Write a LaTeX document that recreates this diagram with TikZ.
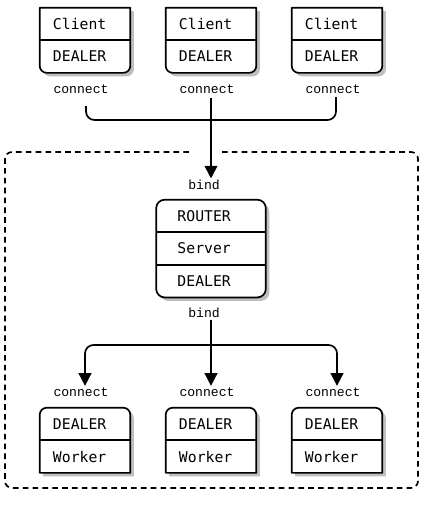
\documentclass[tikz,border=0pt]{standalone}
\usepackage{fontspec}
\usetikzlibrary{positioning, arrows.meta, shadows, backgrounds}
\newfontfamily\boxfont{DejaVu Sans Mono}
\newfontfamily\lblfont{Liberation Mono}

\begin{document}
\begin{tikzpicture}[x=0.025cm, y=-0.025cm,
    cell/.style={text width=1.6cm, inner xsep=0.325cm, inner ysep=0pt,
                 minimum height=0.8cm, align=left,
                 font=\boxfont\fontsize{10.5}{12}\selectfont},
    widecell/.style={cell, text width=1.675cm, inner xsep=0.525cm},
    lbl/.style={font=\lblfont\fontsize{9.3}{11}\selectfont, inner sep=1pt},
    boxline/.style={line width=1.2pt, line join=round},
    boxbody/.style={boxline, fill=white,
                    drop shadow={shadow xshift=2.5pt, shadow yshift=-2.5pt,
                                 fill=black, opacity=0.25}},
    wire/.style={line width=1.2pt, rounded corners=6pt},
    arr/.style={wire, -{Triangle[length=9pt, width=9pt]}},
    frame/.style={line width=1.2pt, dash pattern=on 4pt off 3pt,
                  rounded corners=5pt}
  ]
  \useasboundingbox (0,0) rectangle (423,512);

  % Clients
  \node[cell] (cltop1) at (85,24) {Client};
  \node[cell, below=0pt of cltop1] (cldeal1) {DEALER};
  \node[cell] (cltop2) at (211,24) {Client};
  \node[cell, below=0pt of cltop2] (cldeal2) {DEALER};
  \node[cell] (cltop3) at (337,24) {Client};
  \node[cell, below=0pt of cltop3] (cldeal3) {DEALER};

  % Server
  \node[widecell] (srvrouter) at (211,216) {ROUTER};
  \node[widecell, below=0pt of srvrouter] (srvname) {Server};
  \node[widecell, below=0pt of srvname] (srvdeal) {DEALER};

  % Workers
  \node[cell] (wkdeal1) at (85,424) {DEALER};
  \node[cell, below=0pt of wkdeal1] (wkname1) {Worker};
  \node[cell] (wkdeal2) at (211,424) {DEALER};
  \node[cell, below=0pt of wkdeal2] (wkname2) {Worker};
  \node[cell] (wkdeal3) at (337,424) {DEALER};
  \node[cell, below=0pt of wkdeal3] (wkname3) {Worker};

  % Labels
  \node[lbl] (cn1) at (81,89) {connect};
  \node[lbl] (cn2) at (207,89) {connect};
  \node[lbl] (cn3) at (333,89) {connect};
  \node[lbl] (bindin) at (204,185) {bind};
  \node[lbl] (bindout) at (204,313) {bind};
  \node[lbl] (wl1) at (81,392) {connect};
  \node[lbl] (wl2) at (207,392) {connect};
  \node[lbl] (wl3) at (333,392) {connect};

  % Box outlines
  \begin{scope}[on background layer]
    \foreach \i in {1,2,3} {
      \draw[boxbody] (cltop\i.north west) -- (cltop\i.north east)
        -- ([yshift=5pt]cldeal\i.south east) arc[start angle=0, end angle=-90, radius=5pt]
        -- ([xshift=5pt]cldeal\i.south west) arc[start angle=-90, end angle=-180, radius=5pt]
        -- cycle;
      \draw[boxbody] (wkname\i.south west)
        -- ([yshift=-5pt]wkdeal\i.north west) arc[start angle=180, end angle=90, radius=5pt]
        -- ([xshift=-5pt]wkdeal\i.north east) arc[start angle=90, end angle=0, radius=5pt]
        -- (wkname\i.south east) -- cycle;
    }
    \draw[boxbody, rounded corners=6pt] (srvrouter.north west) rectangle (srvdeal.south east);
  \end{scope}

  % Dividers
  \foreach \i in {1,2,3} {
    \draw[boxline] (cltop\i.south west) -- (cltop\i.south east);
    \draw[boxline] (wkdeal\i.south west) -- (wkdeal\i.south east);
  }
  \draw[boxline] (srvrouter.south west) -- (srvrouter.south east);
  \draw[boxline] (srvname.south west) -- (srvname.south east);

  % Frame
  \draw[frame] (222,152) -- (418,152) -- (418,488) -- (5,488) -- (5,152) -- (193,152);

  % Connectors
  \coordinate (merge) at (211,120);
  \coordinate (split) at (211,345);
  \draw[wire] (86,106) |- (merge) -| (336,97);
  \draw[arr] (211,98) -- (bindin.north -| merge);
  \draw[arr] (bindout.south -| split) -- (wl2.north -| split);
  \draw[arr] (split) -| (wl1.north -| cldeal1);
  \draw[arr] (split) -| (wl3.north -| cldeal3);
\end{tikzpicture}
\end{document}
